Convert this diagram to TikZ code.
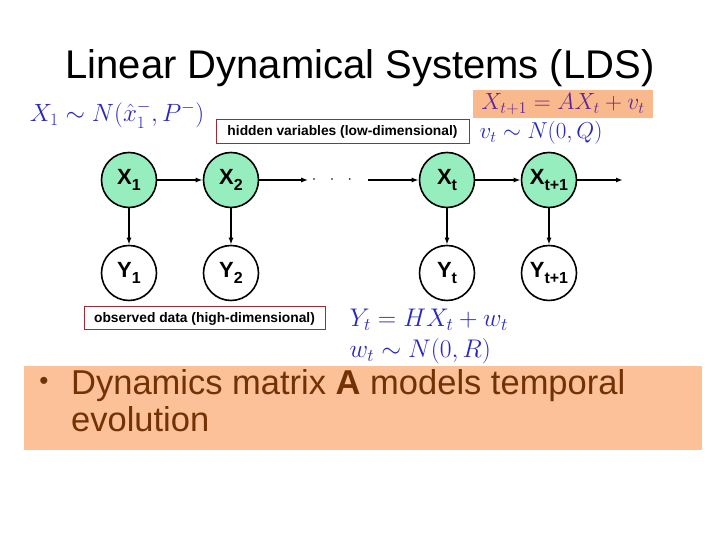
\RequirePackage{fix-cm}
\documentclass[tikz,border=0pt]{standalone}
\usepackage[no-math]{fontspec}
\setmainfont{Liberation Sans}
\usepackage{amsmath}
\usepackage{amssymb}
\usepackage{xcolor}
\usetikzlibrary{arrows.meta}

\definecolor{mintgreen}{RGB}{150,238,190}
\definecolor{boxred}{RGB}{165,40,50}
\definecolor{peach}{RGB}{252,193,153}
\definecolor{eqorange}{RGB}{250,185,140}
\definecolor{eqpurple}{RGB}{100,40,150}
\definecolor{eqblue}{RGB}{40,40,190}
\definecolor{darkbrown}{RGB}{115,50,5}

\newcommand{\lowsub}[1]{\raisebox{-6pt}{\fontsize{16}{16}\selectfont #1}}

\begin{document}
\begin{tikzpicture}[x=1pt, y=1pt,
  hidnode/.style={circle, draw=black, line width=1.6pt, fill=mintgreen, minimum size=55pt, inner sep=0pt, font=\bfseries\fontsize{22}{22}\selectfont},
  obsnode/.style={circle, draw=black, line width=1.6pt, fill=white, minimum size=55pt, inner sep=0pt, font=\bfseries\fontsize{22}{22}\selectfont},
  labelbox/.style={draw=boxred, line width=1pt, inner sep=0pt, font=\bfseries\fontsize{13.8}{14}\selectfont},
  arr/.style={line width=1.4pt, -{Latex[length=7pt, width=5pt]}}]
  \useasboundingbox (0,0) rectangle (720,540);

  \node (title) at (360,472) {\fontsize{40}{40}\selectfont Linear Dynamical Systems (LDS)};

  % chain of hidden states
  \node[hidnode] (x1) at (129,360) {X\lowsub{1}};
  \node[hidnode] (x2) at (231,360) {X\lowsub{2}};
  \node[font=\fontsize{16}{16}\selectfont] (dots) at (332,360) {$\cdot\hspace{10pt}\cdot\hspace{10pt}\cdot$};
  \node[hidnode] (xt) at (447,360) {X\lowsub{t}};
  \node[hidnode] (xt1) at (549,360) {X\lowsub{t+1}};
  \coordinate (xend) at (623,360);

  % observations
  \node[obsnode] (y1) at (129,267) {Y\lowsub{1}};
  \node[obsnode] (y2) at (231,267) {Y\lowsub{2}};
  \node[obsnode] (yt) at (447,267) {Y\lowsub{t}};
  \node[obsnode] (yt1) at (549,267) {Y\lowsub{t+1}};

  \draw[arr] (x1) -- (x2);
  \draw[arr] (x2) -- (dots);
  \draw[arr, shorten <=12pt] (dots) -- (xt);
  \draw[arr] (xt) -- (xt1);
  \draw[arr] (xt1) -- (xend);
  \draw[arr] (x1) -- (y1);
  \draw[arr] (x2) -- (y2);
  \draw[arr] (xt) -- (yt);
  \draw[arr] (xt1) -- (yt1);

  % labels and equations
  \node[labelbox, minimum width=253pt, minimum height=24pt] (hidlabel) at (342.5,408) {hidden variables (low-dimensional)};
  \node[labelbox, minimum width=241pt, minimum height=23pt] (obslabel) at (204.5,221.5) {observed data (high-dimensional)};
  \node[text=eqblue, font=\fontsize{25}{25}\selectfont] (prior) at (117,425) {$X_1 \sim N(\hat{x}_1^-, P^-)$};
  \node[fill=eqorange, text=eqpurple, minimum width=180pt, minimum height=28pt, inner sep=0pt, font=\fontsize{23.5}{24}\selectfont] (trans) at (563,436) {$X_{t+1} = AX_t + v_t$};
  \node[text=eqblue, anchor=west, font=\fontsize{23}{23}\selectfont] (transnoise) at (476,407) {$v_t \sim N(0,Q)$};
  \node[text=eqblue, anchor=west, font=\fontsize{25.5}{26}\selectfont] (obseq) at (346,220) {$Y_t = HX_t + w_t$};
  \node[text=eqblue, anchor=west, font=\fontsize{25.5}{26}\selectfont] (obsnoise) at (346,189) {$w_t \sim N(0,R)$};

  % bullet box
  \fill[peach] (24,90) rectangle (702,174);
  \node[text=darkbrown, font=\fontsize{26}{26}\selectfont] (bullet) at (44,157) {•};
  \node[text=darkbrown, anchor=base west, inner sep=0pt, font=\fontsize{34.5}{35}\selectfont] (line1) at (71,145) {Dynamics matrix \textbf{A} models temporal};
  \node[text=darkbrown, anchor=base west, inner sep=0pt, font=\fontsize{34.5}{35}\selectfont] (line2) at (71,108) {evolution};
\end{tikzpicture}
\end{document}
